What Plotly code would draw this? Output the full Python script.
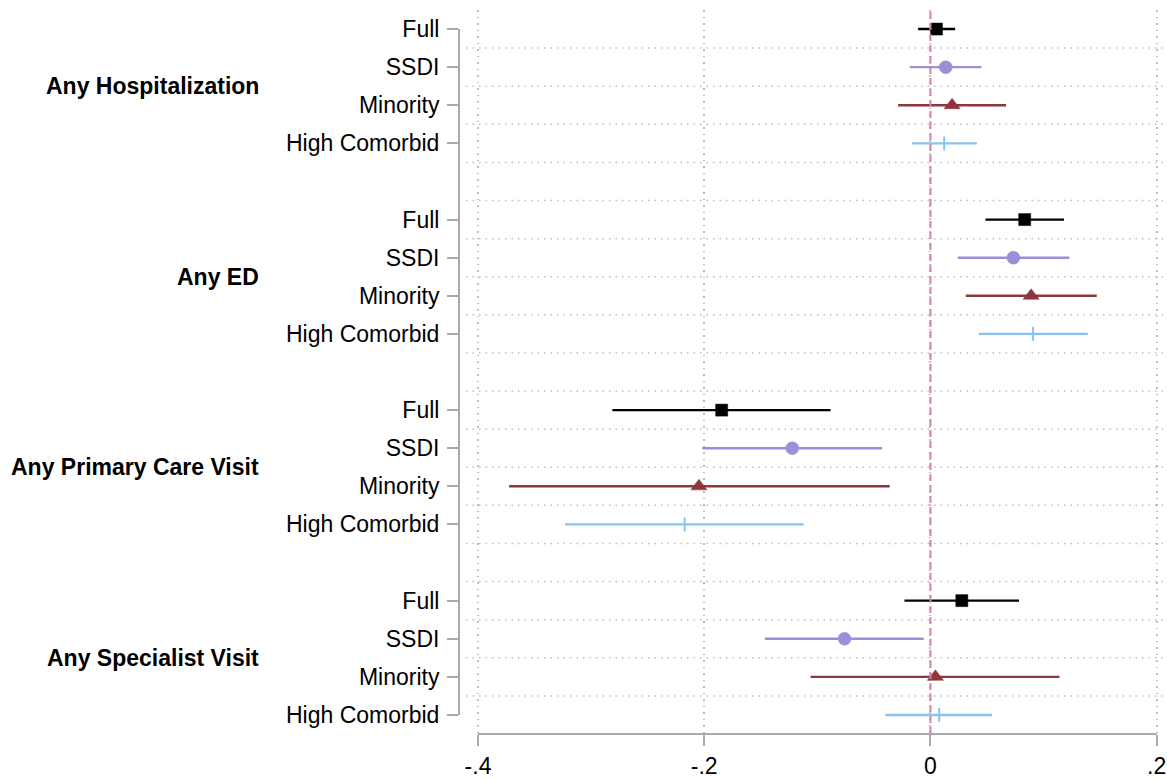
import plotly.graph_objects as go

# Outcomes and subgroups
outcomes = ["Any Hospitalization", "Any ED", "Any Primary Care Visit", "Any Specialist Visit"]
subgroups = ["Full", "SSDI", "Minority", "High Comorbid"]

# Point estimates and 95% CI bounds, one list per subgroup (ordered by outcome)
full_est = [0.0053, 0.0833, -0.1846, 0.0277]
full_lo = [-0.0109, 0.0486, -0.2812, -0.0230]
full_hi = [0.0218, 0.1180, -0.0883, 0.0783]

ssdi_est = [0.0135, 0.0733, -0.1222, -0.0760]
ssdi_lo = [-0.0183, 0.0241, -0.2017, -0.1464]
ssdi_hi = [0.0450, 0.1228, -0.0427, -0.0059]

minority_est = [0.0191, 0.0890, -0.2047, 0.0044]
minority_lo = [-0.0286, 0.0312, -0.3725, -0.1060]
minority_hi = [0.0669, 0.1470, -0.0360, 0.1140]

comorbid_est = [0.0121, 0.0907, -0.2173, 0.0077]
comorbid_lo = [-0.0162, 0.0427, -0.3230, -0.0398]
comorbid_hi = [0.0410, 0.1390, -0.1122, 0.0545]

x_ticks = [-0.4, -0.2, 0.0, 0.2]
x_tick_labels = ["-.4", "-.2", "0", ".2"]

series = [
    ("Full", full_est, full_lo, full_hi, "#000000", "square", 12),
    ("SSDI", ssdi_est, ssdi_lo, ssdi_hi, "#9891d9", "circle", 13),
    ("Minority", minority_est, minority_lo, minority_hi, "#8f363d", "triangle-up", 14),
    ("High Comorbid", comorbid_est, comorbid_lo, comorbid_hi, "#88c3ec", "line-ns", 10),
]

# Each outcome block takes 4 rows plus one blank spacer row
ROWS_PER_BLOCK = len(subgroups) + 1
n_rows = ROWS_PER_BLOCK * len(outcomes) - 1

X_RANGE = [-0.4168, 0.2091]
Y_RANGE = [n_rows - 0.5, -0.5]

FONT = "Liberation Sans, Arial, sans-serif"
AXIS_GREY = "#a9a9a9"
GRID_GREY = "#bdbdbd"

fig = go.Figure()

for s_idx, (name, est, lo, hi, color, symbol, msize) in enumerate(series):
    ys = [o * ROWS_PER_BLOCK + s_idx for o in range(len(outcomes))]
    fig.add_trace(go.Scatter(
        x=est, y=ys, mode="markers", name=name, showlegend=False,
        marker=dict(symbol=symbol, size=msize, color=color,
                    line=dict(color=color, width=2 if symbol == "line-ns" else 0.5)),
        error_x=dict(type="data", symmetric=False,
                     array=[h - e for h, e in zip(hi, est)],
                     arrayminus=[e - l for e, l in zip(est, lo)],
                     width=0, thickness=2.4, color=color),
    ))

# Row tick positions and labels
tick_vals, tick_text = [], []
for o in range(len(outcomes)):
    for s_idx, sg in enumerate(subgroups):
        tick_vals.append(o * ROWS_PER_BLOCK + s_idx)
        tick_text.append(sg)

shapes = []
# Horizontal dotted separators between rows
grid_start = X_RANGE[0] + 0.0062
for k in range(n_rows - 1):
    shapes.append(dict(type="line", xref="x", yref="y",
                       x0=grid_start, x1=X_RANGE[1], y0=k + 0.5, y1=k + 0.5,
                       line=dict(color=GRID_GREY, width=1.5, dash="1.5px,5px"),
                       layer="below"))

# Reference line at zero
shapes.append(dict(type="line", xref="x", yref="paper", x0=0, x1=0, y0=0, y1=1,
                   line=dict(color="#d67fae", width=2, dash="7px,4px"), layer="above"))

# Left axis line spanning the first to last row
shapes.append(dict(type="line", xref="paper", yref="y", x0=0, x1=0,
                   y0=tick_vals[0], y1=tick_vals[-1],
                   line=dict(color=AXIS_GREY, width=2)))

# Bottom axis line spanning the labelled tick range
span = X_RANGE[1] - X_RANGE[0]
shapes.append(dict(type="line", xref="paper", yref="paper",
                   x0=(x_ticks[0] - X_RANGE[0]) / span,
                   x1=(x_ticks[-1] - X_RANGE[0]) / span,
                   y0=0, y1=0, line=dict(color=AXIS_GREY, width=2)))

# Outcome group labels
LEFT_MARGIN = 459
PLOT_W = 1167 - LEFT_MARGIN
annotations = []
for o, label in enumerate(outcomes):
    annotations.append(dict(
        text=label, xref="paper", yref="y",
        x=(261 - LEFT_MARGIN) / PLOT_W, y=o * ROWS_PER_BLOCK + 1.5,
        xanchor="right", yanchor="middle", showarrow=False,
        font=dict(family=FONT, size=23, color="#000000", weight="bold"),
    ))

fig.update_layout(
    width=1167, height=780,
    margin=dict(l=LEFT_MARGIN, r=0, t=10, b=46),
    paper_bgcolor="white", plot_bgcolor="white",
    font=dict(family=FONT, size=23, color="#000000"),
    shapes=shapes, annotations=annotations,
    xaxis=dict(range=X_RANGE, tickvals=x_ticks, ticktext=x_tick_labels,
               showgrid=True, gridcolor=GRID_GREY, griddash="1.5px,5px", gridwidth=1.5,
               zeroline=False, showline=False,
               ticks="outside", ticklen=11, tickwidth=2, tickcolor=AXIS_GREY,
               tickfont=dict(size=23)),
    yaxis=dict(range=Y_RANGE, tickvals=tick_vals, ticktext=tick_text,
               showgrid=False, zeroline=False, showline=False,
               ticks="outside", ticklen=11, tickwidth=2, tickcolor=AXIS_GREY,
               ticklabelstandoff=3, tickfont=dict(size=23)),
)

fig.write_html("out.html")
